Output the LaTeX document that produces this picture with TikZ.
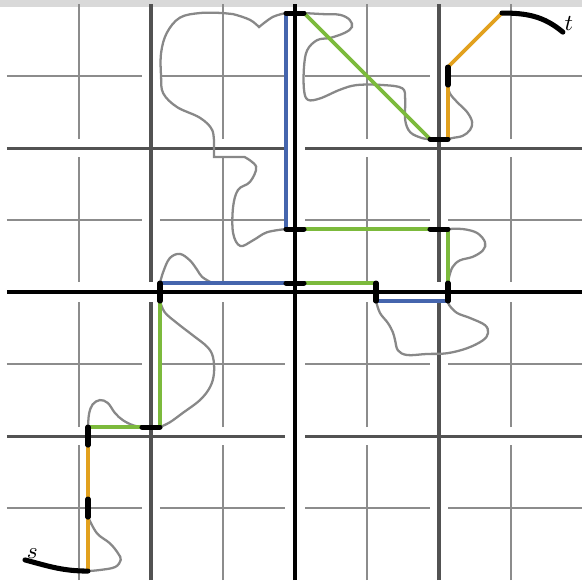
\documentclass[tikz,border=0pt]{standalone}
\usepackage{tikz}
\definecolor{pathblue}{HTML}{4565AD}
\definecolor{pathgreen}{HTML}{7CBA3C}
\definecolor{pathorange}{HTML}{E2A11E}
\definecolor{loopgray}{HTML}{888888}

\begin{document}
\begin{tikzpicture}[
  gridthin/.style={draw=black!45, line width=0.8pt},
  gridmid/.style={draw=black!68, line width=1.2pt},
  gridthick/.style={draw=black, line width=1.7pt},
  wiggle/.style={draw=loopgray, line width=0.9pt},
  pblue/.style={draw=pathblue, line width=1.5pt},
  pgreen/.style={draw=pathgreen, line width=1.5pt},
  porange/.style={draw=pathorange, line width=1.5pt},
  portal/.style={draw=black, line width=2pt, line cap=round},
  endarc/.style={draw=black, line width=2pt, line cap=round},
  lbl/.style={font=\small, inner sep=0.5pt, anchor=south west}
]
\useasboundingbox (-0.097,-0.014) rectangle (7.986,8.056);
\fill[black!15] (-0.1,7.965) rectangle (8.1,8.1);

\foreach \c/\lo/\hi in {1/0/1.875, 3/2.125/3.86, 5/4.14/5.875, 7/6.125/8}
  \foreach \d/\llo/\hhi in {1/0/1.875, 3/2.125/3.86, 5/4.14/5.875, 7/6.125/8} {
    \draw[gridthin] (\c,\llo) -- (\c,\hhi);
    \draw[gridthin] (\lo,\d) -- (\hi,\d);
  }
\foreach \lo/\hi in {0/3.86, 4.14/8} {
  \draw[gridmid] (2,\lo) -- (2,\hi);
  \draw[gridmid] (6,\lo) -- (6,\hi);
  \draw[gridmid] (\lo,2) -- (\hi,2);
  \draw[gridmid] (\lo,6) -- (\hi,6);
}
\draw[gridthick] (4,0) -- (4,8) (0,4) -- (8,4);

\coordinate (a0) at (1.125,0.125);
\coordinate (a1) at (1.125,0.875);
\coordinate (a2) at (1.125,1.125);
\coordinate (a3) at (1.125,1.875);
\coordinate (a4) at (1.125,2.125);
\coordinate (a5) at (1.875,2.125);
\coordinate (a6) at (2.125,2.125);
\coordinate (a7) at (2.125,3.875);
\coordinate (a8) at (2.125,4.125);
\coordinate (a9) at (3.875,4.125);
\coordinate (a10) at (4.125,4.125);
\coordinate (a11) at (5.125,4.125);
\coordinate (a12) at (5.125,3.875);
\coordinate (a13) at (6.125,3.875);
\coordinate (a14) at (6.125,4.125);
\coordinate (a15) at (6.125,4.875);
\coordinate (a16) at (5.875,4.875);
\coordinate (a17) at (4.125,4.875);
\coordinate (a18) at (3.875,4.875);
\coordinate (a19) at (3.875,7.875);
\coordinate (a20) at (4.125,7.875);
\coordinate (a21) at (5.875,6.125);
\coordinate (a22) at (6.125,6.125);
\coordinate (a23) at (6.125,6.875);
\coordinate (a24) at (6.125,7.125);
\coordinate (a25) at (6.875,7.875);
\coordinate (s0) at (0.25,0.28);
\coordinate (t0) at (7.72,7.61);

\draw[wiggle] plot[smooth,tension=0.6] coordinates {(a1) (1.25,0.65) (1.43,0.51) (1.54,0.375) (1.58,0.28) (1.5,0.18) (1.29,0.14) (a0)};
\draw[wiggle] plot[smooth,tension=0.6] coordinates {(a4) (1.14,2.31) (1.19,2.44) (1.29,2.50) (1.40,2.46) (1.5,2.32) (1.61,2.22) (1.75,2.15) (a5)};
\draw[wiggle] plot[smooth,tension=0.6] coordinates {(a7) (2.19,3.72) (2.36,3.57) (2.58,3.40) (2.78,3.24) (2.86,3.10) (2.875,2.875) (2.82,2.68) (2.68,2.50) (2.44,2.32) (2.26,2.19) (a6)};
\draw[wiggle] plot[smooth,tension=0.6] coordinates {(a8) (2.17,4.28) (2.26,4.47) (2.40,4.53) (2.54,4.44) (2.64,4.31) (2.71,4.21) (2.85,4.125)};
\draw[wiggle] plot[smooth,tension=0.6] coordinates {(a19) (3.69,7.82) (3.5,7.68)}
  -- plot[smooth,tension=0.6] coordinates {(3.5,7.68) (3.375,7.78) (3.14,7.86) (3.0,7.875) (2.68,7.875) (2.40,7.81) (2.22,7.60) (2.14,7.32) (2.14,6.99) (2.17,6.76) (2.36,6.57) (2.68,6.42) (2.85,6.25) (2.875,6.02)}
  -- (2.875,5.875)
  -- plot[smooth,tension=0.6] coordinates {(3.3,5.875) (3.46,5.74) (3.375,5.53) (3.21,5.42) (3.14,5.18) (3.14,4.82) (3.24,4.64) (3.42,4.72) (3.61,4.83) (a18)};
\draw[wiggle] plot[smooth,tension=0.6] coordinates {(a20) (4.39,7.86) (4.625,7.85) (4.76,7.78) (4.79,7.68) (4.69,7.60) (4.49,7.53) (4.31,7.50) (4.17,7.36) (4.125,7.125) (4.125,6.81) (4.18,6.67) (4.35,6.69) (4.625,6.81) (4.86,6.875) (5.22,6.875) (5.49,6.83) (5.53,6.67) (5.53,6.39) (5.60,6.22) (5.76,6.14) (a21)};
\draw[wiggle] plot[smooth,tension=0.6] coordinates {(a23) (6.15,6.76) (6.25,6.64) (6.39,6.50) (6.46,6.36) (6.43,6.25) (6.33,6.17) (6.19,6.14) (a22)};
\draw[wiggle] plot[smooth,tension=0.6] coordinates {(a15) (6.33,4.875) (6.53,4.82) (6.64,4.69) (6.61,4.58) (6.47,4.49) (6.29,4.44) (6.19,4.35) (6.14,4.21) (a14)};
\draw[wiggle] plot[smooth,tension=0.6] coordinates {(a12) (5.18,3.71) (5.29,3.57) (5.36,3.44) (5.39,3.33) (5.43,3.19) (5.56,3.125) (5.83,3.14) (6.11,3.15) (6.39,3.22) (6.61,3.33) (6.68,3.43) (6.64,3.54) (6.43,3.64) (6.25,3.71) (6.14,3.82) (a13)};

\foreach \u/\v/\st in {0/1/porange, 2/3/porange, 4/5/pgreen, 6/7/pgreen, 8/9/pblue, 10/11/pgreen, 12/13/pblue, 14/15/pgreen, 16/17/pgreen, 18/19/pblue, 20/21/pgreen, 22/23/porange, 24/25/porange}
  \draw[\st] (a\u) -- (a\v);
\foreach \u/\v in {1/2, 3/4, 5/6, 7/8, 9/10, 11/12, 13/14, 15/16, 17/18, 19/20, 21/22, 23/24}
  \draw[portal] (a\u) -- (a\v);

\draw[endarc] (s0) to[out=-15,in=180] (a0);
\draw[endarc] (a25) to[out=0,in=140] (t0);
\node[lbl] (s) at (s0) {$s$};
\node[lbl] (t) at (t0) {$t$};
\end{tikzpicture}
\end{document}
